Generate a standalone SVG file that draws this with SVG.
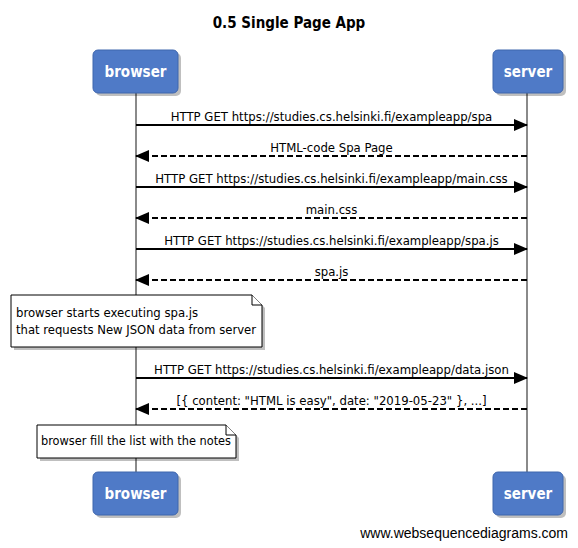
<svg xmlns="http://www.w3.org/2000/svg" width="578" height="548" viewBox="0 0 578 548">
<style>
.lbl{font-family:"DejaVu Sans Condensed","Liberation Sans",sans-serif;font-size:13px;fill:#000}
.mid{text-anchor:middle}
.actor{fill:#4f7ac7;stroke:#3f66ad;stroke-width:1}
.shadow{fill:#000;opacity:0.25}
.aname{font-family:"DejaVu Sans Condensed","Liberation Sans",sans-serif;font-size:15px;font-weight:bold;fill:#fff;text-anchor:middle}
.life{stroke:#8a8a8a;stroke-width:2}
.sol{stroke:#000;stroke-width:2;fill:none}
.dsh{stroke:#000;stroke-width:2;fill:none;stroke-dasharray:6,3}
.note{fill:#fff;stroke:#000;stroke-width:1}
</style>
<defs>
<marker id="ah" markerWidth="14" markerHeight="12" refX="13" refY="6" orient="auto" markerUnits="userSpaceOnUse">
<path d="M0,0 L14,6 L0,12 Z" fill="#000"/>
</marker>
</defs>
<rect width="578" height="548" fill="#fff"/>
<text x="289" y="28" text-anchor="middle" style="font-family:'DejaVu Sans Condensed','Liberation Sans',sans-serif;font-size:15px;font-weight:bold">0.5 Single Page App</text>
<g id="lifelines">
<line class="life" x1="136" y1="93" x2="136" y2="472"/>
<line class="life" x1="527" y1="93" x2="527" y2="472"/>
</g>
<g id="browser-top">
<rect class="shadow" x="96" y="53" width="85" height="43" rx="5"/>
<rect class="actor" x="93" y="50" width="85" height="43" rx="5"/>
<text class="aname" x="135.5" y="77">browser</text>
</g>
<g id="server-top">
<rect class="shadow" x="496" y="53" width="70" height="43" rx="5"/>
<rect class="actor" x="493" y="50" width="70" height="43" rx="5"/>
<text class="aname" x="528" y="77">server</text>
</g>
<g id="browser-bottom">
<rect class="shadow" x="96" y="475" width="85" height="43" rx="5"/>
<rect class="actor" x="93" y="472" width="85" height="43" rx="5"/>
<text class="aname" x="135.5" y="499">browser</text>
</g>
<g id="server-bottom">
<rect class="shadow" x="496" y="475" width="70" height="43" rx="5"/>
<rect class="actor" x="493" y="472" width="70" height="43" rx="5"/>
<text class="aname" x="528" y="499">server</text>
</g>
<g id="connectors">
<line class="sol" x1="136" y1="125" x2="527" y2="125" marker-end="url(#ah)"/>
<text class="lbl mid" x="331.5" y="121">HTTP GET https://studies.cs.helsinki.fi/exampleapp/spa</text>
<line class="dsh" x1="527" y1="156" x2="136" y2="156" marker-end="url(#ah)"/>
<text class="lbl mid" x="331.5" y="152">HTML-code Spa Page</text>
<line class="sol" x1="136" y1="187" x2="527" y2="187" marker-end="url(#ah)"/>
<text class="lbl mid" x="331.5" y="183">HTTP GET https://studies.cs.helsinki.fi/exampleapp/main.css</text>
<line class="dsh" x1="527" y1="218" x2="136" y2="218" marker-end="url(#ah)"/>
<text class="lbl mid" x="331.5" y="214">main.css</text>
<line class="sol" x1="136" y1="249" x2="527" y2="249" marker-end="url(#ah)"/>
<text class="lbl mid" x="331.5" y="245">HTTP GET https://studies.cs.helsinki.fi/exampleapp/spa.js</text>
<line class="dsh" x1="527" y1="280" x2="136" y2="280" marker-end="url(#ah)"/>
<text class="lbl mid" x="331.5" y="276">spa.js</text>
<line class="sol" x1="136" y1="378" x2="527" y2="378" marker-end="url(#ah)"/>
<text class="lbl mid" x="331.5" y="374">HTTP GET https://studies.cs.helsinki.fi/exampleapp/data.json</text>
<line class="dsh" x1="527" y1="409" x2="136" y2="409" marker-end="url(#ah)"/>
<text class="lbl mid" x="331.5" y="405">[{ content: "HTML is easy", date: "2019-05-23" }, ...]</text>
</g>
<g id="note1">
<path class="shadow" d="M14,298 H255 L265,308 V350 H14 Z"/>
<path class="note" d="M11,295 H252 L262,305 V347 H11 Z"/>
<path class="note" d="M252,295 V305 H262" fill="none"/>
<text class="lbl" x="16" y="317">browser starts executing spa.js</text>
<text class="lbl" x="16" y="334" textLength="240" lengthAdjust="spacingAndGlyphs">that requests New JSON data from server</text>
</g>
<g id="note2">
<path class="shadow" d="M40,428 H229 L239,438 V461 H40 Z"/>
<path class="note" d="M37,425 H226 L236,435 V458 H37 Z"/>
<path class="note" d="M226,425 V435 H236" fill="none"/>
<text class="lbl" x="41" y="445" textLength="190" lengthAdjust="spacingAndGlyphs">browser fill the list with the notes</text>
</g>
<text x="568" y="538" text-anchor="end" style="font-family:'Liberation Sans',Arial,sans-serif;font-size:14px">www.websequencediagrams.com</text>
</svg>
